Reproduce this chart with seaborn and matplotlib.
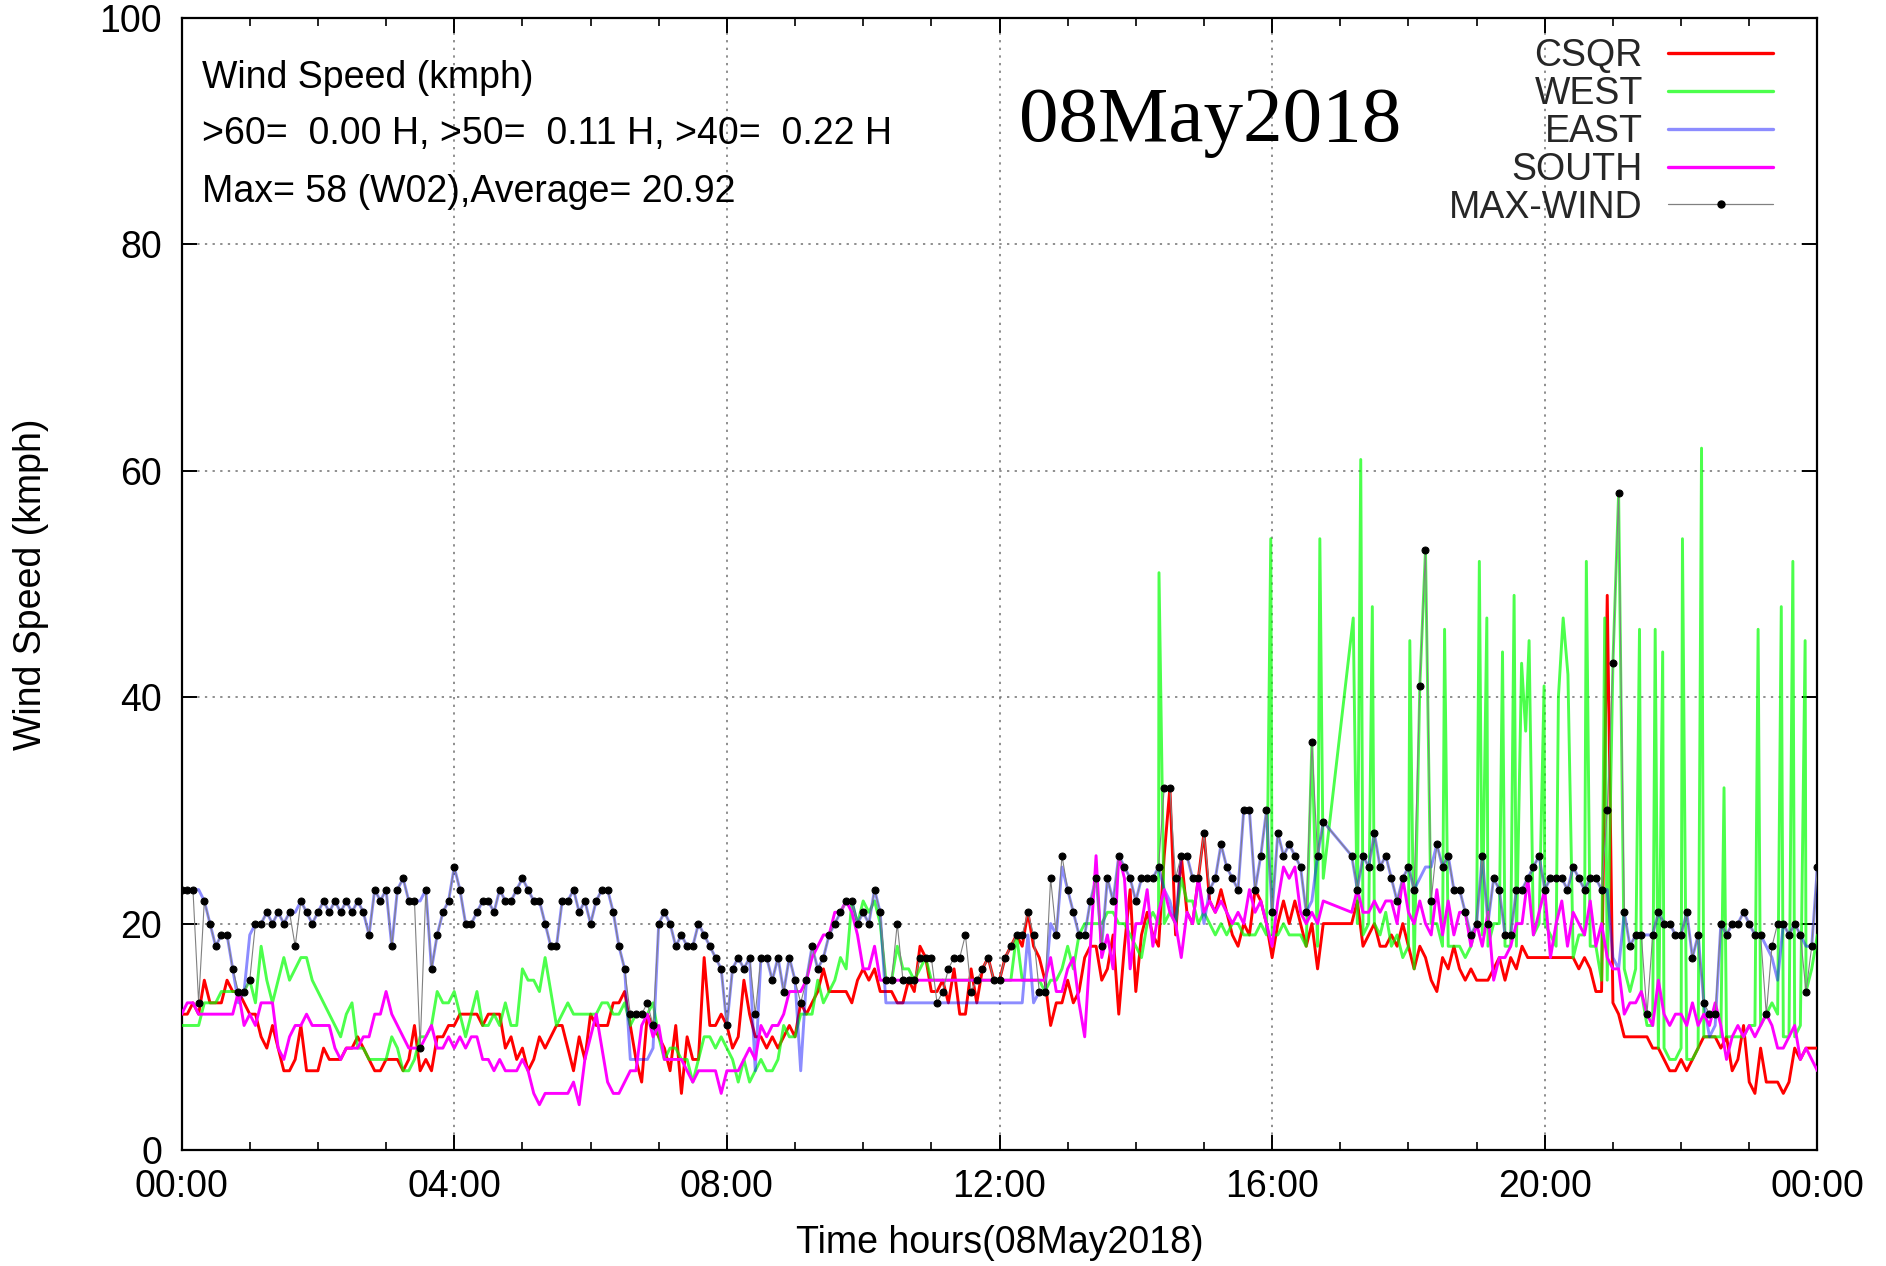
import numpy as np
import pandas as pd
import matplotlib
matplotlib.use("Agg")
import matplotlib.pyplot as plt
import seaborn as sns
from matplotlib.lines import Line2D
from matplotlib.ticker import MultipleLocator, FixedLocator

nan = np.nan

# ---------------- data (5-minute samples, one row per hour) ----------------
minutes = np.arange(0, 1441, 5)

csqr = [
    12,12,13,12,15,13,13,13,15,14,14,13,
    12,12,10,9,11,9,7,7,8,11,7,7,
    7,9,8,8,8,9,9,10,9,8,7,7,
    8,8,8,7,8,11,7,8,7,10,10,11,
    11,12,12,12,12,11,12,12,12,9,10,8,
    9,7,8,10,9,10,11,11,9,7,10,8,
    12,11,11,11,13,13,14,11,8,6,12,11,
    10,9,7,11,5,10,8,8,17,11,11,12,
    11,9,10,15,12,10,10,9,10,9,10,11,
    10,13,12,13,14,16,14,14,14,14,13,15,
    16,15,16,14,14,14,13,13,15,14,18,17,
    14,14,15,13,16,12,12,16,13,16,17,15,
    15,17,18,19,18,21,18,17,15,11,13,13,
    15,13,14,17,18,18,15,16,19,12,18,23,
    14,19,21,19,18,26,32,19,26,21,20,24,
    28,22,21,23,21,19,18,20,19,23,22,20,
    17,20,22,20,22,20,18,20,16,20,nan,nan,
    nan,nan,20,22,18,19,20,18,18,19,18,20,
    18,16,18,17,15,14,17,16,18,16,15,16,
    15,15,15,16,17,15,17,16,18,17,17,17,
    17,17,17,17,17,17,16,17,16,14,14,49,
    13,12,10,10,10,10,10,9,9,8,7,7,
    8,7,8,9,10,10,10,9,10,7,8,11,
    6,5,9,6,6,6,5,6,9,8,9,9,
    9]

west = [
    11,11,11,11,13,13,13,14,14,14,14,14,
    15,13,18,15,13,15,17,15,16,17,17,15,
    14,13,12,11,10,12,13,9,9,8,8,8,
    8,10,9,7,7,8,10,10,11,14,13,13,
    14,12,10,12,14,11,11,12,11,13,11,11,
    16,15,15,14,17,14,11,12,13,12,12,12,
    12,12,13,13,12,12,13,11,12,12,12,13,
    10,8,9,9,8,8,6,8,10,10,9,10,
    9,8,6,8,6,7,8,7,7,8,11,10,
    10,12,12,12,15,13,14,15,17,16,22,20,
    22,21,22,20,15,15,18,16,16,15,16,17,
    15,15,15,15,15,15,15,15,15,15,15,15,
    15,15,15,19,15,15,15,15,14,15,15,16,
    18,16,19,20,20,20,20,21,21,20,20,19,
    18,17,20,21,20,20,21,20,24,22,22,20,
    21,20,19,20,19,20,20,19,19,19,20,19,
    19,19,20,19,19,19,18,36,18,24,nan,nan,
    nan,nan,nan,20,19,20,20,19,21,18,19,17,
    18,16,41,53,20,20,18,18,18,18,17,18,
    20,19,18,20,20,18,18,18,nan,nan,19,20,
    20,19,18,nan,nan,17,19,19,18,18,15,15,
    43,58,16,14,16,14,11,11,9,9,8,8,
    9,8,8,9,10,10,10,10,10,10,10,10,
    11,11,11,12,13,12,10,10,10,11,14,16,
    19]

# short gusts recorded by WEST between the 5-minute samples (hour, kmph)
west_gust_hour = [14.34, 15.98, 16.70, 17.19, 17.30, 17.47, 18.02, 18.53, 19.04,
                  19.15, 19.38, 19.55, 19.66, 19.72, 19.77, 19.99, 20.20, 20.27,
                  20.34, 20.61, 20.88, 21.39, 21.62, 21.73, 22.02, 22.30, 22.63,
                  23.13, 23.47, 23.64, 23.82]
west_gust_val = [51, 54, 54, 47, 61, 48, 45, 46, 52,
                 47, 44, 49, 43, 37, 45, 41, 40, 47,
                 42, 52, 47, 46, 46, 44, 54, 62, 32,
                 46, 48, 52, 45]

east = [
    23,23,23,23,22,20,18,19,19,16,13,14,
    19,20,20,21,20,21,20,21,21,22,21,20,
    21,22,21,22,21,22,21,22,21,19,23,22,
    23,18,23,24,22,22,22,23,16,19,21,22,
    25,23,20,20,21,22,22,21,23,22,22,23,
    24,23,22,22,20,18,18,22,22,23,21,22,
    20,22,23,23,21,18,16,8,8,8,8,9,
    20,21,20,18,19,18,18,20,19,18,17,16,
    11,16,17,16,17,7,17,17,15,17,14,17,
    15,7,15,18,16,17,19,20,21,22,22,20,
    21,20,23,21,13,13,13,13,13,13,13,13,
    13,13,13,13,13,13,13,13,13,13,13,13,
    13,13,13,13,13,19,13,14,14,20,19,25,
    23,21,19,19,22,24,18,24,22,26,25,24,
    22,24,24,24,25,23,22,20,26,26,24,24,
    20,23,24,27,25,24,23,30,30,23,26,30,
    21,28,26,27,26,25,21,22,26,29,nan,nan,
    nan,nan,26,23,26,25,28,25,26,24,22,24,
    25,23,24,25,25,27,25,26,23,23,21,19,
    20,26,20,24,23,19,19,23,23,24,25,26,
    23,24,24,24,23,25,24,23,24,24,23,23,
    17,16,21,18,19,19,19,19,21,20,20,19,
    19,21,17,19,13,10,11,20,19,20,20,21,
    20,19,19,18,17,15,20,19,20,19,18,18,
    25]

south = [
    12,13,13,12,12,12,12,12,12,12,14,11,
    12,11,13,13,13,9,8,10,11,11,12,11,
    11,11,11,9,8,9,9,9,10,10,12,12,
    14,12,11,10,9,9,9,10,11,9,9,10,
    9,10,9,10,10,8,8,7,8,7,7,7,
    8,7,5,4,5,5,5,5,5,6,4,8,
    10,12,9,6,5,5,6,7,7,11,12,10,
    11,8,8,8,8,7,6,7,7,7,7,5,
    7,7,7,8,9,8,11,10,11,11,12,14,
    14,14,15,17,18,19,19,21,21,22,21,19,
    16,16,18,15,15,15,15,15,15,15,15,15,
    15,15,15,15,15,15,15,15,15,15,15,15,
    15,15,15,15,15,15,15,15,15,17,14,14,
    16,17,13,10,18,26,17,19,16,26,24,16,
    20,20,23,18,21,23,21,20,17,21,20,24,
    21,22,21,22,21,20,21,20,23,21,22,20,
    18,22,25,24,25,21,20,21,20,22,nan,nan,
    nan,nan,21,23,21,21,22,21,22,22,20,24,
    21,20,22,20,19,23,19,22,19,21,21,18,
    20,18,21,15,17,17,18,20,20,24,19,21,
    23,17,20,22,18,21,20,19,22,18,20,17,
    16,16,12,13,13,14,12,11,15,12,11,12,
    12,11,13,11,12,11,13,11,8,10,11,10,
    11,10,11,12,11,9,9,10,11,8,9,8,
    7]

max_wind = [
    23,23,23,13,22,20,18,19,19,16,14,14,
    15,20,20,21,20,21,20,21,18,22,21,20,
    21,22,21,22,21,22,21,22,21,19,23,22,
    23,18,23,24,22,22,9,23,16,19,21,22,
    25,23,20,20,21,22,22,21,23,22,22,23,
    24,23,22,22,20,18,18,22,22,23,21,22,
    20,22,23,23,21,18,16,12,12,12,13,11,
    20,21,20,18,19,18,18,20,19,18,17,16,
    11,16,17,16,17,12,17,17,15,17,14,17,
    15,13,15,18,16,17,19,20,21,22,22,20,
    21,20,23,21,15,15,20,15,15,15,17,17,
    17,13,14,16,17,17,19,14,15,16,17,15,
    15,17,18,19,19,21,19,14,14,24,19,26,
    23,21,19,19,22,24,18,24,22,26,25,24,
    22,24,24,24,25,32,32,24,26,26,24,24,
    28,23,24,27,25,24,23,30,30,23,26,30,
    21,28,26,27,26,25,21,36,26,29,nan,nan,
    nan,nan,26,23,26,25,28,25,26,24,22,24,
    25,23,41,53,22,27,25,26,23,23,21,19,
    20,26,20,24,23,19,19,23,23,24,25,26,
    23,24,24,24,23,25,24,23,24,24,23,30,
    43,58,21,18,19,19,12,19,21,20,20,19,
    19,21,17,19,13,12,12,20,19,20,20,21,
    20,19,19,12,18,20,20,19,20,19,14,18,
    25]

tick_labels = ["00:00", "04:00", "08:00", "12:00", "16:00", "20:00", "00:00"]
series_names = ["CSQR", "WEST", "EAST", "SOUTH", "MAX-WIND"]
info_lines = ["Wind Speed (kmph)",
              ">60=  0.00 H, >50=  0.11 H, >40=  0.22 H",
              "Max= 58 (W02),Average= 20.92"]
date_text = "08May2018"

# ---------------- build tables ----------------
hours = minutes / 60.0
df_csqr = pd.DataFrame({"h": hours, "v": csqr}).dropna()
df_east = pd.DataFrame({"h": hours, "v": east}).dropna()
df_south = pd.DataFrame({"h": hours, "v": south}).dropna()
df_max = pd.DataFrame({"h": hours, "v": max_wind}).dropna()
df_west = pd.concat([pd.DataFrame({"h": hours, "v": west}),
                     pd.DataFrame({"h": west_gust_hour, "v": west_gust_val})]
                    ).dropna().sort_values("h").reset_index(drop=True)

# ---------------- style ----------------
sns.set_theme(style="white")
plt.rcParams["font.family"] = ["Liberation Sans", "DejaVu Sans"]
plt.rcParams["axes.unicode_minus"] = False

W, H = 1886, 1266
fig = plt.figure(figsize=(W / 100, H / 100), dpi=100)
fig.patch.set_facecolor("white")
ax = fig.add_axes([181.6 / W, 1 - 1150 / H, (1817.4 - 181.6) / W, (1150 - 18) / H])
ax.set_facecolor("white")

col_csqr = "#ff0000"
col_west = "#00ff00"
col_east = "#0000ff"
col_south = "#ff00ff"

lw = 2.1
sns.lineplot(data=df_csqr, x="h", y="v", ax=ax, color=col_csqr, lw=lw,
             estimator=None, sort=False, zorder=3)
sns.lineplot(data=df_west, x="h", y="v", ax=ax, color=col_west, lw=lw, alpha=0.7,
             estimator=None, sort=False, zorder=4)
sns.lineplot(data=df_east, x="h", y="v", ax=ax, color=col_east, lw=lw, alpha=0.45,
             estimator=None, sort=False, zorder=5)
sns.lineplot(data=df_south, x="h", y="v", ax=ax, color=col_south, lw=lw,
             estimator=None, sort=False, zorder=6)
sns.lineplot(data=df_max, x="h", y="v", ax=ax, color="#808080", lw=0.8,
             marker="o", markersize=5, markerfacecolor="black",
             markeredgecolor="black", estimator=None, sort=False, zorder=7)

ax.set_xlim(0, 24)
ax.set_ylim(0, 100)
ax.xaxis.set_major_locator(FixedLocator([0, 4, 8, 12, 16, 20, 24]))
ax.set_xticklabels(tick_labels)
ax.xaxis.set_minor_locator(MultipleLocator(1))
ax.yaxis.set_major_locator(MultipleLocator(20))

ax.grid(True, which="major", color="#707070", linestyle=(0, (1.5, 3.5)), lw=1.1)
for s in ax.spines.values():
    s.set_visible(True)
    s.set_color("black")
    s.set_linewidth(1.6)
ax.tick_params(which="both", direction="in", top=True, right=True,
               bottom=True, left=True, colors="black")
ax.tick_params(which="major", length=11, width=1.4, labelsize=27, pad=14)
ax.tick_params(which="minor", length=6, width=1.2)
ax.tick_params(axis="y", which="major", pad=14)

ax.set_xlabel("Time hours(08May2018)", fontsize=27, color="black")
ax.set_ylabel("Wind Speed (kmph)", fontsize=27, color="black")
ax.xaxis.set_label_coords(0.5, -0.066)
ax.yaxis.set_label_coords(-0.081, 0.5)

ys = [0.9469, 0.8973, 0.8463]
for t, yy in zip(info_lines, ys):
    ax.text(0.0125, yy, t, transform=ax.transAxes, fontsize=27, ha="left",
            va="center", color="black")
ax.text(0.629, 0.9075, date_text, transform=ax.transAxes, fontsize=57,
        family=["Liberation Serif", "DejaVu Serif"], ha="center", va="center",
        color="black")

handles = [
    Line2D([], [], color=col_csqr, lw=2.4),
    Line2D([], [], color=col_west, lw=2.4, alpha=0.7),
    Line2D([], [], color=col_east, lw=2.4, alpha=0.45),
    Line2D([], [], color=col_south, lw=2.4),
    Line2D([], [], color="#808080", lw=0.9, marker="o", markersize=5,
           markerfacecolor="black", markeredgecolor="black"),
]
leg = ax.legend(handles, series_names, loc="upper right",
                bbox_to_anchor=(1773 / W, 1 - 38 / H), bbox_transform=fig.transFigure,
                frameon=False, markerfirst=False, fontsize=27, handlelength=2.8,
                handletextpad=0.67, labelspacing=0.05, borderpad=0,
                borderaxespad=0, numpoints=1)

fig.savefig("out.png", dpi=100, facecolor="white")
